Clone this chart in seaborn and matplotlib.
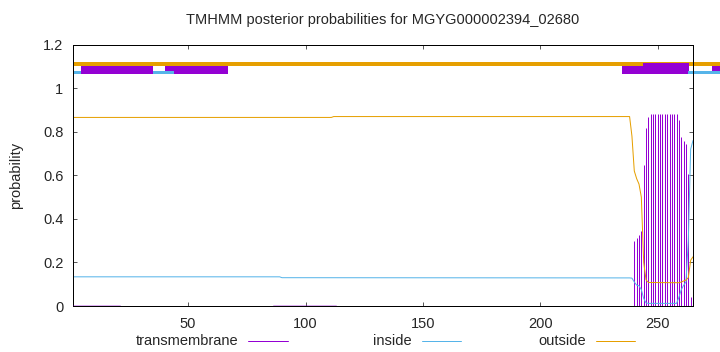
import matplotlib
matplotlib.use("Agg")
import matplotlib.pyplot as plt
import seaborn as sns
import pandas as pd
from matplotlib.patches import Rectangle
from matplotlib.lines import Line2D

title = "TMHMM posterior probabilities for MGYG000002394_02680"
ylabel = "probability"
legend_labels = ["transmembrane", "inside", "outside"]

# posterior probability of "inside" (breakpoints, residue -> probability)
inside_x = [1, 89, 90, 238, 239, 240, 241, 242, 243, 244, 245, 246, 258, 259, 260, 261, 262, 263, 264, 265]
inside_y = [0.134, 0.134, 0.130, 0.129, 0.128, 0.110, 0.096, 0.093, 0.075, 0.035, 0.014, 0.012, 0.012,
            0.040, 0.075, 0.095, 0.110, 0.300, 0.720, 0.760]

# posterior probability of "outside"
outside_x = [1, 111, 112, 238, 239, 240, 241, 242, 243, 244, 245, 246, 258, 259, 260, 261, 262, 263, 264, 265]
outside_y = [0.866, 0.866, 0.870, 0.870, 0.780, 0.620, 0.585, 0.560, 0.500, 0.200, 0.120, 0.108, 0.107,
             0.107, 0.110, 0.115, 0.119, 0.130, 0.210, 0.226]

# posterior probability of "transmembrane" (impulses)
tm_x = [240, 241, 242, 243, 244, 245, 246, 247, 248, 249, 250, 251, 252, 253, 254, 255, 256, 257, 258,
        259, 260, 261, 262, 263, 264, 265]
tm_y = [0.300, 0.310, 0.325, 0.345, 0.646, 0.818, 0.867, 0.880, 0.880, 0.880, 0.880, 0.880, 0.880, 0.880,
        0.880, 0.880, 0.880, 0.880, 0.880, 0.852, 0.776, 0.757, 0.745, 0.608, 0.040, 0.015]
# near-zero transmembrane stretches
tm_low_start = [1, 86]
tm_low_end = [21, 113]
tm_low_val = [0.003, 0.004]

# predicted topology bars at the top (start, end residue)
top_out_start = [1]
top_out_end = [278]
top_in_start = [1, 35.2, 262.7]
top_in_end = [4.6, 44.1, 278]
top_tm_start = [4.6, 40.0, 234.8, 272.9]
top_tm_end = [35.1, 67.2, 262.7, 278]
top_tm_hi_start = [243.6]
top_tm_hi_end = [263.5]

xticks = [50, 100, 150, 200, 250]
yticks = [0, 0.2, 0.4, 0.6, 0.8, 1.0, 1.2]
yticklabels = ["0", "0.2", "0.4", "0.6", "0.8", "1", "1.2"]

C_TM = "#9400D3"
C_IN = "#56B4E9"
C_OUT = "#E69F00"

sns.set_style("ticks")
plt.rcParams['font.family'] = ['Liberation Sans', 'DejaVu Sans']

W, H = 720, 352
fig = plt.figure(figsize=(W / 100, H / 100), dpi=100)
ax = fig.add_axes([73 / W, 46 / H, 620 / W, 261.3 / H])

px = 72 / 100  # points per pixel

# transmembrane impulses
ax.vlines(tm_x, 0, tm_y, color=C_TM, lw=1.0 * px, zorder=2)
for s, e, v in zip(tm_low_start, tm_low_end, tm_low_val):
    ax.plot([s, e], [v, v], color=C_TM, lw=0.8 * px, zorder=4, alpha=0.4)

df_in = pd.DataFrame({"x": inside_x, "y": inside_y})
df_out = pd.DataFrame({"x": outside_x, "y": outside_y})
sns.lineplot(data=df_in, x="x", y="y", ax=ax, color=C_IN, lw=1.0 * px, estimator=None, sort=False)
sns.lineplot(data=df_out, x="x", y="y", ax=ax, color=C_OUT, lw=1.0 * px, estimator=None, sort=False)

# topology bars (drawn unclipped like the original)
for s, e in zip(top_out_start, top_out_end):
    ax.add_patch(Rectangle((s, 1.100), e - s, 0.020, color=C_OUT, lw=0, clip_on=False))
for s, e in zip(top_tm_start, top_tm_end):
    ax.add_patch(Rectangle((s, 1.066), e - s, 0.034, color=C_TM, lw=0, clip_on=False))
for s, e in zip(top_tm_hi_start, top_tm_hi_end):
    ax.add_patch(Rectangle((s, 1.066), e - s, 0.051, color=C_TM, lw=0, clip_on=False))
for s, e in zip(top_in_start, top_in_end):
    ax.add_patch(Rectangle((s, 1.064), e - s, 0.013, color=C_IN, lw=0, clip_on=False))

ax.set_xlim(1, 265)
ax.set_ylim(0, 1.2)
ax.set_xticks(xticks)
ax.set_xticklabels([str(t) for t in xticks])
ax.set_yticks(yticks)
ax.set_yticklabels(yticklabels)
ax.set_xlabel("")
ax.set_ylabel(ylabel, fontsize=10.5, labelpad=14)
ax.tick_params(direction="in", length=3, width=0.7, color="#555555", labelsize=10.5,
               top=True, right=True)
ax.tick_params(axis="x", pad=8)
ax.tick_params(axis="y", pad=7)
for sp in ax.spines.values():
    sp.set_visible(True)
    sp.set_color("black")
    sp.set_linewidth(1.0 * px)

fig.text(383 / W, 1 - 20 / H, title, ha="center", va="center", fontsize=10.5)

# legend row below the plot
leg_y = 1 - 341 / H
text_right = [238.5, 412, 586]
line_left = [248, 422, 596]
line_right = [288, 461, 635]
colors = [C_TM, C_IN, C_OUT]
for lab, tr, l0, l1, c in zip(legend_labels, text_right, line_left, line_right, colors):
    fig.text(tr / W, leg_y, lab, ha="right", va="center", fontsize=10.5)
    fig.add_artist(Line2D([l0 / W, l1 / W], [leg_y, leg_y], color=c, lw=1.0 * px,
                          transform=fig.transFigure))

fig.savefig("out.png", dpi=100)
